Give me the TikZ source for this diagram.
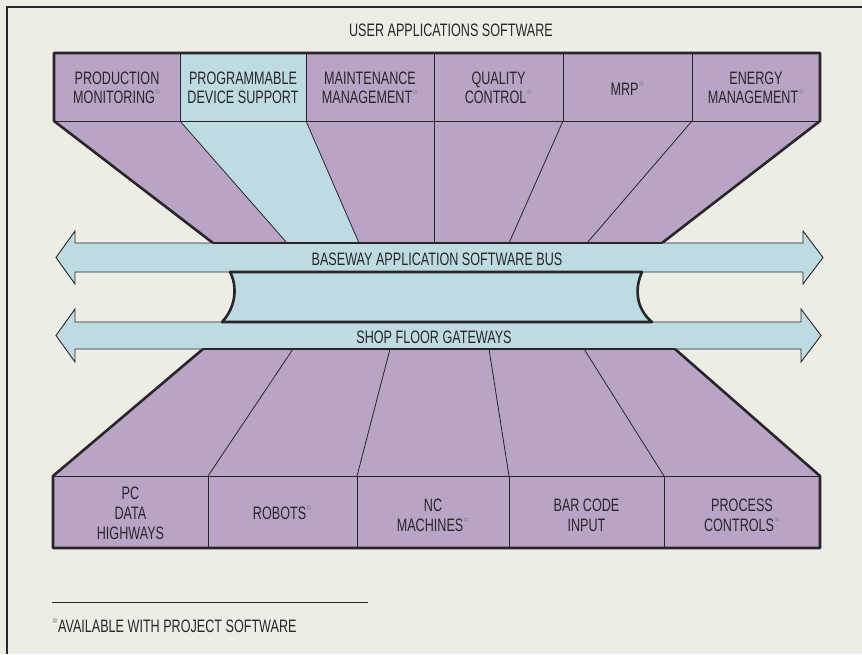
\documentclass[tikz,border=0pt]{standalone}
\usepackage{fontspec}
\setmainfont{Liberation Sans}[FakeStretch=0.70]
\newfontfamily\symfont{DejaVu Sans}
\definecolor{bgc}{RGB}{237,237,230}
\definecolor{lilac}{RGB}{186,164,197}
\definecolor{paleblue}{RGB}{190,219,226}
\definecolor{ink}{RGB}{40,38,42}
\newcommand{\fnm}{\raisebox{0.5em}{\symfont\fontsize{7}{7}\selectfont\textcolor{gray!90}{✲}}}
\begin{document}
\begin{tikzpicture}[x=1pt,y=-1pt,
  txt/.style={font=\fontsize{18}{18.5}\selectfont, text=ink, align=center, inner sep=0pt},
  btxt/.style={font=\fontsize{18}{20}\selectfont, text=ink, align=center, inner sep=0pt},
  thickline/.style={draw=ink, line width=2.6pt, line join=round, line cap=round},
  thinline/.style={draw=ink, line width=0.8pt},
  arrowbox/.style={fill=paleblue, draw=ink, line width=0.9pt, line join=miter}]
\useasboundingbox (0,0) rectangle (862,654);
\fill[bgc] (0,0) rectangle (862,654);
% frame
\draw[ink, line width=1.4pt] (7,654) -- (7,7) -- (862,7);
% title
\node[txt] (title) at (451,30) {USER APPLICATIONS SOFTWARE};
% ---- top block ----
\fill[lilac] (54,53) -- (820,53) -- (820,121) -- (662,243) -- (213,243) -- (54,121) -- cycle;
\fill[paleblue] (180,53) -- (306,53) -- (306,121) -- (359,243) -- (287,243) -- (180,121) -- cycle;
\draw[thinline] (54,121) -- (820,121);
\foreach \x in {180,306,434,563,692} \draw[thinline] (\x,53) -- (\x,121);
\draw[thinline] (180,121) -- (287,243);
\draw[thinline] (306,121) -- (359,243);
\draw[thinline] (434,121) -- (434,243);
\draw[thinline] (563,121) -- (509,243);
\draw[thinline] (692,121) -- (587,243);
\draw[thickline] (213,243) -- (54,121) -- (54,53) -- (820,53) -- (820,121) -- (662,243);
% ---- bottom block ----
\fill[lilac] (203,349) -- (675,349) -- (820,476) -- (820,548) -- (53,548) -- (53,476) -- cycle;
\draw[thinline] (53,476) -- (820,476);
\foreach \x in {208,357,509,664} \draw[thinline] (\x,476) -- (\x,548);
\draw[thinline] (293,349) -- (208,476);
\draw[thinline] (390,349) -- (357,476);
\draw[thinline] (489,349) -- (509,476);
\draw[thinline] (584,349) -- (664,476);
\draw[thickline] (203,349) -- (53,476) -- (53,548) -- (820,548) -- (820,476) -- (675,349);
% ---- middle connector ----
\fill[paleblue] (230,272) .. controls (237,285) and (237,306) .. (222,322) -- (652,322) .. controls (635,308) and (635,287) .. (642,272) -- cycle;
% ---- bus arrows ----
\draw[arrowbox] (56,257.5) -- (75,231) -- (75,243) -- (803,243) -- (803,231) -- (823,257.5) -- (803,284) -- (803,272) -- (75,272) -- (75,284) -- cycle;
\draw[arrowbox] (56,335.5) -- (75,309) -- (75,322) -- (801,322) -- (801,309) -- (821,335.5) -- (801,362) -- (801,349) -- (75,349) -- (75,362) -- cycle;
\draw[thickline] (213,243) -- (662,243);
\draw[thickline] (203,349) -- (675,349);
\draw[thickline] (222,322) .. controls (237,306) and (237,285) .. (230,272) -- (642,272) .. controls (635,287) and (635,308) .. (652,322) -- cycle;
\node[txt] (bus) at (437,259) {BASEWAY APPLICATION SOFTWARE BUS};
\node[txt] (shop) at (434,337) {SHOP FLOOR GATEWAYS};
% ---- top labels ----
\node[txt] (t1) at (117,88) {PRODUCTION\\MONITORING\fnm};
\node[txt] (t2) at (243,88) {PROGRAMMABLE\\DEVICE SUPPORT};
\node[txt] (t3) at (370,88) {MAINTENANCE\\MANAGEMENT\fnm};
\node[txt] (t4) at (498.5,88) {QUALITY\\CONTROL\fnm};
\node[txt] (t5) at (627.5,88) {MRP\fnm};
\node[txt] (t6) at (756,88) {ENERGY\\MANAGEMENT\fnm};
% ---- bottom labels ----
\node[btxt] (b1) at (130.5,513) {PC\\DATA\\HIGHWAYS};
\node[btxt] (b2) at (282.5,513) {ROBOTS\fnm};
\node[btxt] (b3) at (433,515) {NC\\MACHINES\fnm};
\node[btxt] (b4) at (586.5,515) {BAR CODE\\INPUT};
\node[btxt] (b5) at (742,515) {PROCESS\\CONTROLS\fnm};
% ---- footnote ----
\draw[ink, line width=0.9pt] (52,602) -- (368,602);
\node[txt, anchor=west] (fn) at (52,626) {\fnm AVAILABLE WITH PROJECT SOFTWARE};
\end{tikzpicture}
\end{document}
